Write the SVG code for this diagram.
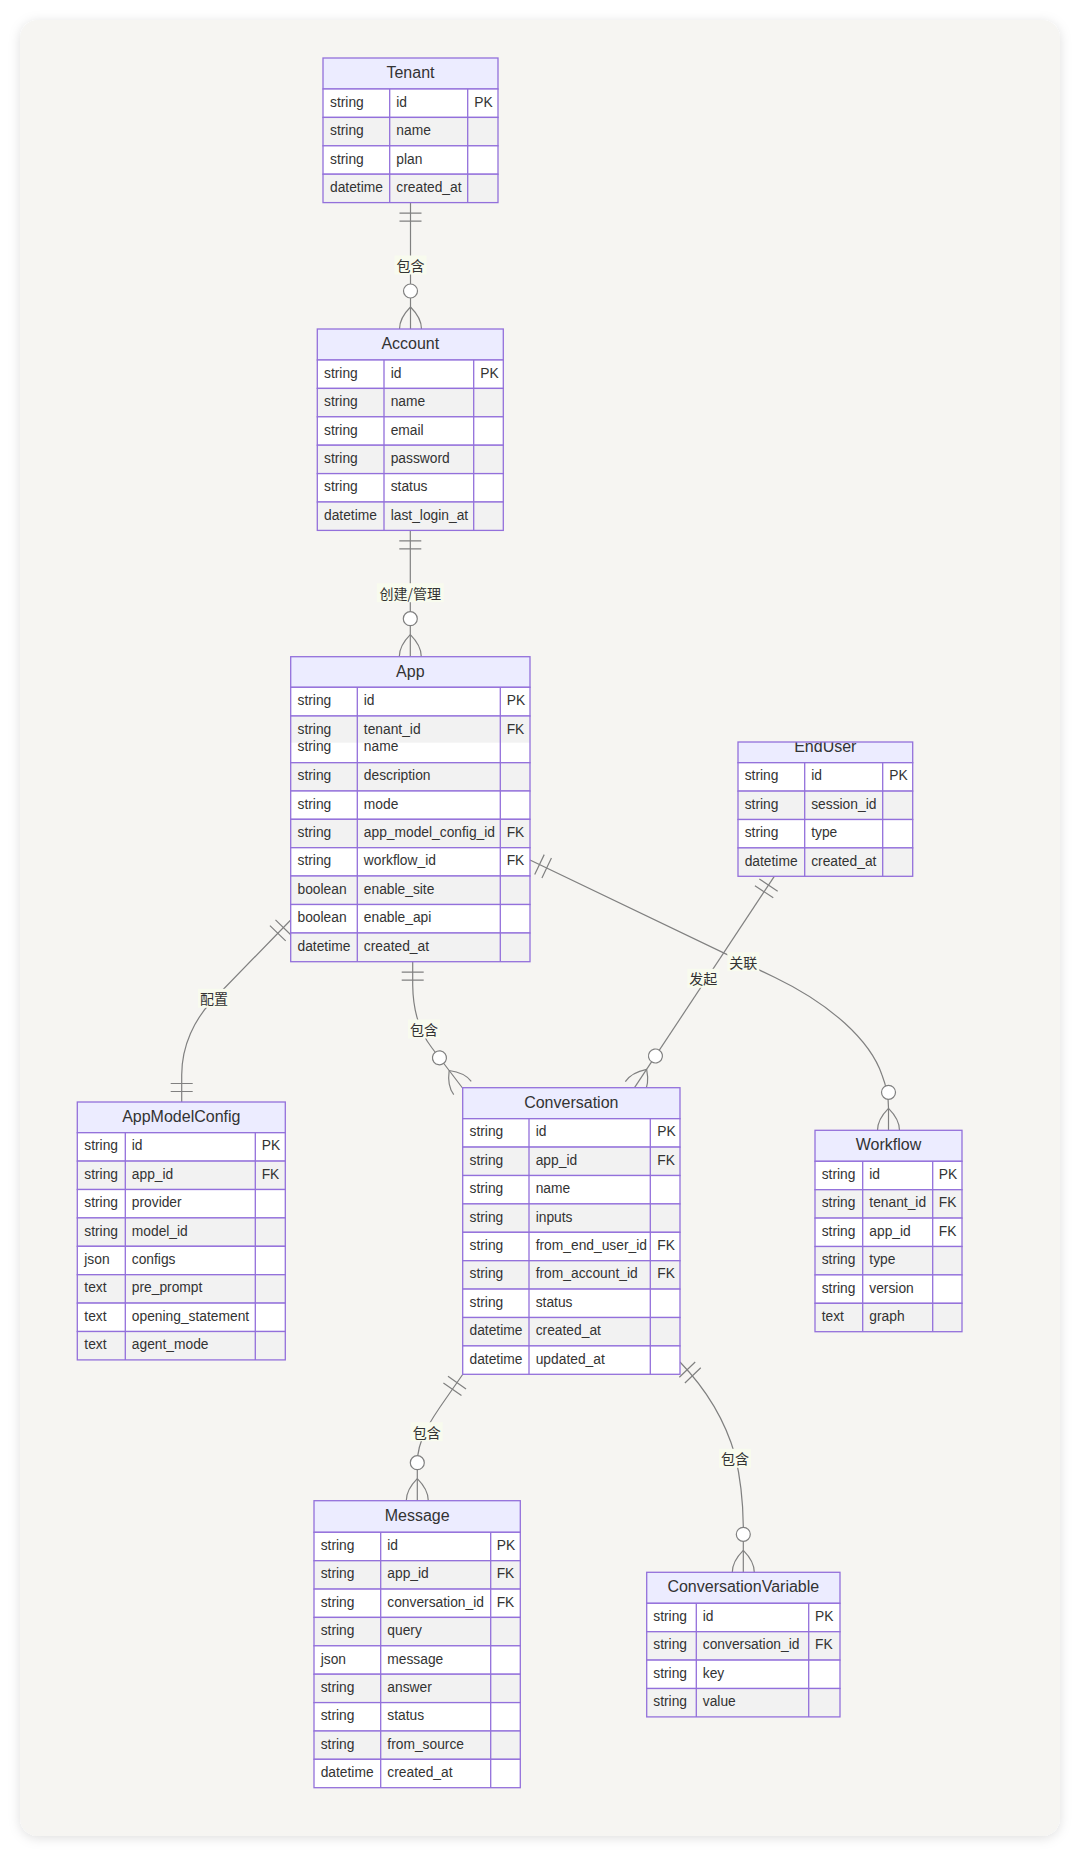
<svg xmlns="http://www.w3.org/2000/svg" width="1080" height="1856" viewBox="0 0 1080 1856">
<defs>
<style>
.hd{fill:#ECECFF;stroke:#9370DB;stroke-width:1.3}
.w{fill:#ffffff;stroke:#9370DB;stroke-width:1.3}
.g{fill:#f2f2f2;stroke:#9370DB;stroke-width:1.3}
.dv{stroke:#9370DB;stroke-width:1.3;fill:none}
.c{font-family:"Liberation Sans",Arial,sans-serif;font-size:13.8px;fill:#333;dominant-baseline:central;transform:translateY(-1px)}
.h{font-family:"Liberation Sans",Arial,sans-serif;font-size:16px;fill:#333;text-anchor:middle;dominant-baseline:central;transform:translateY(-1px)}
.e{fill:none;stroke:#808080;stroke-width:1.2}
.lb{fill:#f8fbee}
.lt{font-family:"Noto Sans CJK SC",sans-serif;font-size:14px;fill:#333;text-anchor:middle;dominant-baseline:central}
.mk{fill:none;stroke:#808080;stroke-width:1.2}
</style>
<filter id="sh" x="-5%" y="-5%" width="110%" height="110%">
<feDropShadow dx="0" dy="2" stdDeviation="6" flood-color="#000" flood-opacity="0.13"/>
</filter>
<marker id="one" markerUnits="userSpaceOnUse" markerWidth="32" markerHeight="30" refX="30" refY="15" orient="auto-start-reverse" overflow="visible">
<path class="mk" d="M19.5,4 L19.5,26 M11.5,4 L11.5,26"/>
</marker>
<marker id="many" markerUnits="userSpaceOnUse" markerWidth="44" markerHeight="30" refX="40" refY="15" orient="auto" overflow="visible">
<path class="mk" d="M18,15 Q29,4 40,4 M18,15 Q29,26 40,26"/>
<circle cx="2" cy="15" r="7" fill="#ffffff" stroke="#808080" stroke-width="1.2"/>
</marker>
<clipPath id="euc"><rect x="738" y="743" width="174.7" height="134.3"/></clipPath>
</defs>
<rect x="0" y="0" width="1080" height="1856" fill="#ffffff"/>
<rect x="20" y="20" width="1040" height="1816" rx="18" fill="#f6f5f2" filter="url(#sh)"/>

<g id="connectors">
<path class="e" d="M410.5,202.6 L410.5,329" marker-start="url(#one)" marker-end="url(#many)"/>
<path class="e" d="M410.3,530.4 L410.3,656.7" marker-start="url(#one)" marker-end="url(#many)"/>
<path class="e" d="M290.7,920 L212,1001 C195,1019 181.7,1045 181.7,1075 L181.7,1102" marker-start="url(#one)" marker-end="url(#one)"/>
<path class="e" d="M412.7,961.7 L412.7,985 C413,1010 418,1030 432,1048 L462.5,1088" marker-start="url(#one)" marker-end="url(#many)"/>
<path class="e" d="M530,860 L775,977.5 C830,1004 870,1040 882,1075 Q888.5,1092 888.5,1108 L888.5,1130.3" marker-start="url(#one)" marker-end="url(#many)"/>
<path class="e" d="M774.3,876.3 L634.5,1087.7" marker-start="url(#one)" marker-end="url(#many)"/>
<path class="e" d="M463,1374 L447,1397 C430,1421 417.3,1440 417.3,1463 L417.3,1500.7" marker-start="url(#one)" marker-end="url(#many)"/>
<path class="e" d="M680,1362 C705,1388 725,1420 735,1455 C741,1480 743.3,1500 743.3,1530 L743.3,1572.3" marker-start="url(#one)" marker-end="url(#many)"/>
<rect class="lb" x="394.5" y="255.5" width="32" height="19"/>
<text class="lt" x="410.5" y="265">包含</text>
<rect class="lb" x="376.8" y="583.2" width="67" height="19"/>
<text class="lt" x="410.3" y="592.7">创建/管理</text>
<rect class="lb" x="198" y="988.8" width="32" height="19"/>
<text class="lt" x="214" y="998.3">配置</text>
<rect class="lb" x="408" y="1019.5" width="32" height="19"/>
<text class="lt" x="424" y="1029">包含</text>
<rect class="lb" x="727.3" y="952.2" width="32" height="19"/>
<text class="lt" x="743.3" y="961.7">关联</text>
<rect class="lb" x="687.3" y="968.8" width="32" height="19"/>
<text class="lt" x="703.3" y="978.3">发起</text>
<rect class="lb" x="410.7" y="1422.2" width="32" height="19"/>
<text class="lt" x="426.7" y="1431.7">包含</text>
<rect class="lb" x="719" y="1448.8" width="32" height="19"/>
<text class="lt" x="735" y="1458.3">包含</text>
</g>

<g id="Tenant">
<rect class="hd" x="323" y="58" width="175" height="31"/>
<text class="h" x="410.5" y="73.5">Tenant</text>
<rect class="w" x="323" y="89" width="175" height="28.4"/>
<rect class="g" x="323" y="117.4" width="175" height="28.4"/>
<rect class="w" x="323" y="145.8" width="175" height="28.4"/>
<rect class="g" x="323" y="174.2" width="175" height="28.4"/>
<path class="dv" d="M389.7,89V202.6M467.7,89V202.6"/>
<text class="c" x="330" y="103.2">string</text><text class="c" x="396.3" y="103.2">id</text><text class="c" x="474.3" y="103.2">PK</text>
<text class="c" x="330" y="131.6">string</text><text class="c" x="396.3" y="131.6">name</text>
<text class="c" x="330" y="160">string</text><text class="c" x="396.3" y="160">plan</text>
<text class="c" x="330" y="188.4">datetime</text><text class="c" x="396.3" y="188.4">created_at</text>
</g>

<g id="Account">
<rect class="hd" x="317.3" y="329" width="186" height="31"/>
<text class="h" x="410.3" y="344.5">Account</text>
<rect class="w" x="317.3" y="360" width="186" height="28.4"/>
<rect class="g" x="317.3" y="388.4" width="186" height="28.4"/>
<rect class="w" x="317.3" y="416.8" width="186" height="28.4"/>
<rect class="g" x="317.3" y="445.2" width="186" height="28.4"/>
<rect class="w" x="317.3" y="473.6" width="186" height="28.4"/>
<rect class="g" x="317.3" y="502" width="186" height="28.4"/>
<path class="dv" d="M384,360V530.4M473.7,360V530.4"/>
<text class="c" x="324" y="374.2">string</text><text class="c" x="390.7" y="374.2">id</text><text class="c" x="480.3" y="374.2">PK</text>
<text class="c" x="324" y="402.6">string</text><text class="c" x="390.7" y="402.6">name</text>
<text class="c" x="324" y="431">string</text><text class="c" x="390.7" y="431">email</text>
<text class="c" x="324" y="459.4">string</text><text class="c" x="390.7" y="459.4">password</text>
<text class="c" x="324" y="487.8">string</text><text class="c" x="390.7" y="487.8">status</text>
<text class="c" x="324" y="516.2">datetime</text><text class="c" x="390.7" y="516.2">last_login_at</text>
</g>

<g id="App">
<rect class="hd" x="290.7" y="656.7" width="239.3" height="30.6"/>
<text class="h" x="410.3" y="672">App</text>
<rect class="w" x="290.7" y="687.3" width="239.3" height="28.7"/>
<rect x="290.7" y="716" width="239.3" height="26.7" fill="#f2f2f2"/>
<rect x="290.7" y="742.7" width="239.3" height="20" fill="#ffffff"/>
<rect x="290.7" y="716" width="239.3" height="46.7" fill="none" stroke="#9370DB" stroke-width="1.3"/>
<rect class="g" x="290.7" y="762.7" width="239.3" height="28.3"/>
<rect class="w" x="290.7" y="791" width="239.3" height="28.3"/>
<rect class="g" x="290.7" y="819.3" width="239.3" height="28.4"/>
<rect class="w" x="290.7" y="847.7" width="239.3" height="28.3"/>
<rect class="g" x="290.7" y="876" width="239.3" height="28.5"/>
<rect class="w" x="290.7" y="904.5" width="239.3" height="28.5"/>
<rect class="g" x="290.7" y="933" width="239.3" height="28.7"/>
<path class="dv" d="M357.3,687.3V961.7M500.3,687.3V961.7"/>
<text class="c" x="297.5" y="701.7">string</text><text class="c" x="363.8" y="701.7">id</text><text class="c" x="506.7" y="701.7">PK</text>
<text class="c" x="297.5" y="730">string</text><text class="c" x="363.8" y="730">tenant_id</text><text class="c" x="506.7" y="730">FK</text>
<text class="c" x="297.5" y="747.6">string</text><text class="c" x="363.8" y="747.6">name</text>
<text class="c" x="297.5" y="776.9">string</text><text class="c" x="363.8" y="776.9">description</text>
<text class="c" x="297.5" y="805.2">string</text><text class="c" x="363.8" y="805.2">mode</text>
<text class="c" x="297.5" y="833.5">string</text><text class="c" x="363.8" y="833.5">app_model_config_id</text><text class="c" x="506.7" y="833.5">FK</text>
<text class="c" x="297.5" y="861.9">string</text><text class="c" x="363.8" y="861.9">workflow_id</text><text class="c" x="506.7" y="861.9">FK</text>
<text class="c" x="297.5" y="890.2">boolean</text><text class="c" x="363.8" y="890.2">enable_site</text>
<text class="c" x="297.5" y="918.7">boolean</text><text class="c" x="363.8" y="918.7">enable_api</text>
<text class="c" x="297.5" y="947.3">datetime</text><text class="c" x="363.8" y="947.3">created_at</text>
</g>

<g id="EndUser">
<rect x="738" y="742" width="174.7" height="20.7" fill="#ECECFF"/>
<text class="h" x="825.3" y="747.6" clip-path="url(#euc)">EndUser</text>
<rect x="738" y="742" width="174.7" height="20.7" fill="none" stroke="#9370DB" stroke-width="1.3"/>
<rect class="w" x="738" y="762.7" width="174.7" height="28.4"/>
<rect class="g" x="738" y="791.1" width="174.7" height="28.4"/>
<rect class="w" x="738" y="819.5" width="174.7" height="28.4"/>
<rect class="g" x="738" y="847.9" width="174.7" height="28.4"/>
<path class="dv" d="M804.7,762.7V876.3M882.7,762.7V876.3"/>
<text class="c" x="744.7" y="776.9">string</text><text class="c" x="811.2" y="776.9">id</text><text class="c" x="889.2" y="776.9">PK</text>
<text class="c" x="744.7" y="805.3">string</text><text class="c" x="811.2" y="805.3">session_id</text>
<text class="c" x="744.7" y="833.7">string</text><text class="c" x="811.2" y="833.7">type</text>
<text class="c" x="744.7" y="862.1">datetime</text><text class="c" x="811.2" y="862.1">created_at</text>
</g>

<g id="AppModelConfig">
<rect class="hd" x="77.3" y="1102" width="208" height="30.7"/>
<text class="h" x="181.3" y="1117.4">AppModelConfig</text>
<rect class="w" x="77.3" y="1132.7" width="208" height="28.4"/>
<rect class="g" x="77.3" y="1161.1" width="208" height="28.4"/>
<rect class="w" x="77.3" y="1189.5" width="208" height="28.4"/>
<rect class="g" x="77.3" y="1217.9" width="208" height="28.4"/>
<rect class="w" x="77.3" y="1246.3" width="208" height="28.4"/>
<rect class="g" x="77.3" y="1274.7" width="208" height="28.4"/>
<rect class="w" x="77.3" y="1303.1" width="208" height="28.4"/>
<rect class="g" x="77.3" y="1331.5" width="208" height="28.4"/>
<path class="dv" d="M125.3,1132.7V1359.9M255.3,1132.7V1359.9"/>
<text class="c" x="84.3" y="1146.9">string</text><text class="c" x="131.8" y="1146.9">id</text><text class="c" x="261.7" y="1146.9">PK</text>
<text class="c" x="84.3" y="1175.3">string</text><text class="c" x="131.8" y="1175.3">app_id</text><text class="c" x="261.7" y="1175.3">FK</text>
<text class="c" x="84.3" y="1203.7">string</text><text class="c" x="131.8" y="1203.7">provider</text>
<text class="c" x="84.3" y="1232.1">string</text><text class="c" x="131.8" y="1232.1">model_id</text>
<text class="c" x="84.3" y="1260.5">json</text><text class="c" x="131.8" y="1260.5">configs</text>
<text class="c" x="84.3" y="1288.9">text</text><text class="c" x="131.8" y="1288.9">pre_prompt</text>
<text class="c" x="84.3" y="1317.3">text</text><text class="c" x="131.8" y="1317.3">opening_statement</text>
<text class="c" x="84.3" y="1345.7">text</text><text class="c" x="131.8" y="1345.7">agent_mode</text>
</g>

<g id="Conversation">
<rect class="hd" x="462.7" y="1087.7" width="217.3" height="31"/>
<text class="h" x="571.3" y="1103.2">Conversation</text>
<rect class="w" x="462.7" y="1118.7" width="217.3" height="28.4"/>
<rect class="g" x="462.7" y="1147.1" width="217.3" height="28.4"/>
<rect class="w" x="462.7" y="1175.5" width="217.3" height="28.4"/>
<rect class="g" x="462.7" y="1203.9" width="217.3" height="28.4"/>
<rect class="w" x="462.7" y="1232.3" width="217.3" height="28.4"/>
<rect class="g" x="462.7" y="1260.7" width="217.3" height="28.4"/>
<rect class="w" x="462.7" y="1289.1" width="217.3" height="28.4"/>
<rect class="g" x="462.7" y="1317.5" width="217.3" height="28.4"/>
<rect class="w" x="462.7" y="1345.9" width="217.3" height="28.4"/>
<path class="dv" d="M529,1118.7V1374.3M650.3,1118.7V1374.3"/>
<text class="c" x="469.5" y="1132.9">string</text><text class="c" x="535.7" y="1132.9">id</text><text class="c" x="657.3" y="1132.9">PK</text>
<text class="c" x="469.5" y="1161.3">string</text><text class="c" x="535.7" y="1161.3">app_id</text><text class="c" x="657.3" y="1161.3">FK</text>
<text class="c" x="469.5" y="1189.7">string</text><text class="c" x="535.7" y="1189.7">name</text>
<text class="c" x="469.5" y="1218.1">string</text><text class="c" x="535.7" y="1218.1">inputs</text>
<text class="c" x="469.5" y="1246.5">string</text><text class="c" x="535.7" y="1246.5">from_end_user_id</text><text class="c" x="657.3" y="1246.5">FK</text>
<text class="c" x="469.5" y="1274.9">string</text><text class="c" x="535.7" y="1274.9">from_account_id</text><text class="c" x="657.3" y="1274.9">FK</text>
<text class="c" x="469.5" y="1303.3">string</text><text class="c" x="535.7" y="1303.3">status</text>
<text class="c" x="469.5" y="1331.7">datetime</text><text class="c" x="535.7" y="1331.7">created_at</text>
<text class="c" x="469.5" y="1360.1">datetime</text><text class="c" x="535.7" y="1360.1">updated_at</text>
</g>

<g id="Workflow">
<rect class="hd" x="815" y="1130.3" width="147" height="31"/>
<text class="h" x="888.5" y="1145.8">Workflow</text>
<rect class="w" x="815" y="1161.3" width="147" height="28.4"/>
<rect class="g" x="815" y="1189.7" width="147" height="28.4"/>
<rect class="w" x="815" y="1218.1" width="147" height="28.4"/>
<rect class="g" x="815" y="1246.5" width="147" height="28.4"/>
<rect class="w" x="815" y="1274.9" width="147" height="28.4"/>
<rect class="g" x="815" y="1303.3" width="147" height="28.4"/>
<path class="dv" d="M862.7,1161.3V1331.7M932.7,1161.3V1331.7"/>
<text class="c" x="821.7" y="1175.5">string</text><text class="c" x="869.3" y="1175.5">id</text><text class="c" x="938.8" y="1175.5">PK</text>
<text class="c" x="821.7" y="1203.9">string</text><text class="c" x="869.3" y="1203.9">tenant_id</text><text class="c" x="938.8" y="1203.9">FK</text>
<text class="c" x="821.7" y="1232.3">string</text><text class="c" x="869.3" y="1232.3">app_id</text><text class="c" x="938.8" y="1232.3">FK</text>
<text class="c" x="821.7" y="1260.7">string</text><text class="c" x="869.3" y="1260.7">type</text>
<text class="c" x="821.7" y="1289.1">string</text><text class="c" x="869.3" y="1289.1">version</text>
<text class="c" x="821.7" y="1317.5">text</text><text class="c" x="869.3" y="1317.5">graph</text>
</g>

<g id="Message">
<rect class="hd" x="314" y="1500.7" width="206.3" height="31.6"/>
<text class="h" x="417.2" y="1516.5">Message</text>
<rect class="w" x="314" y="1532.3" width="206.3" height="28.4"/>
<rect class="g" x="314" y="1560.7" width="206.3" height="28.4"/>
<rect class="w" x="314" y="1589.1" width="206.3" height="28.3"/>
<rect class="g" x="314" y="1617.4" width="206.3" height="28.4"/>
<rect class="w" x="314" y="1645.8" width="206.3" height="28.4"/>
<rect class="g" x="314" y="1674.2" width="206.3" height="28.4"/>
<rect class="w" x="314" y="1702.6" width="206.3" height="28.4"/>
<rect class="g" x="314" y="1731" width="206.3" height="28.3"/>
<rect class="w" x="314" y="1759.3" width="206.3" height="28.4"/>
<path class="dv" d="M380.7,1532.3V1787.7M490.7,1532.3V1787.7"/>
<text class="c" x="320.7" y="1546.5">string</text><text class="c" x="387.3" y="1546.5">id</text><text class="c" x="496.7" y="1546.5">PK</text>
<text class="c" x="320.7" y="1574.9">string</text><text class="c" x="387.3" y="1574.9">app_id</text><text class="c" x="496.7" y="1574.9">FK</text>
<text class="c" x="320.7" y="1603.3">string</text><text class="c" x="387.3" y="1603.3">conversation_id</text><text class="c" x="496.7" y="1603.3">FK</text>
<text class="c" x="320.7" y="1631.6">string</text><text class="c" x="387.3" y="1631.6">query</text>
<text class="c" x="320.7" y="1660">json</text><text class="c" x="387.3" y="1660">message</text>
<text class="c" x="320.7" y="1688.4">string</text><text class="c" x="387.3" y="1688.4">answer</text>
<text class="c" x="320.7" y="1716.8">string</text><text class="c" x="387.3" y="1716.8">status</text>
<text class="c" x="320.7" y="1745.2">string</text><text class="c" x="387.3" y="1745.2">from_source</text>
<text class="c" x="320.7" y="1773.5">datetime</text><text class="c" x="387.3" y="1773.5">created_at</text>
</g>

<g id="ConversationVariable">
<rect class="hd" x="646.7" y="1572.3" width="193.3" height="31"/>
<text class="h" x="743.3" y="1587.8">ConversationVariable</text>
<rect class="w" x="646.7" y="1603.3" width="193.3" height="28.4"/>
<rect class="g" x="646.7" y="1631.7" width="193.3" height="28.4"/>
<rect class="w" x="646.7" y="1660.1" width="193.3" height="28.4"/>
<rect class="g" x="646.7" y="1688.5" width="193.3" height="28.4"/>
<path class="dv" d="M696.3,1603.3V1716.9M808.7,1603.3V1716.9"/>
<text class="c" x="653.3" y="1617.5">string</text><text class="c" x="702.8" y="1617.5">id</text><text class="c" x="815" y="1617.5">PK</text>
<text class="c" x="653.3" y="1645.9">string</text><text class="c" x="702.8" y="1645.9">conversation_id</text><text class="c" x="815" y="1645.9">FK</text>
<text class="c" x="653.3" y="1674.3">string</text><text class="c" x="702.8" y="1674.3">key</text>
<text class="c" x="653.3" y="1702.7">string</text><text class="c" x="702.8" y="1702.7">value</text>
</g>
</svg>
